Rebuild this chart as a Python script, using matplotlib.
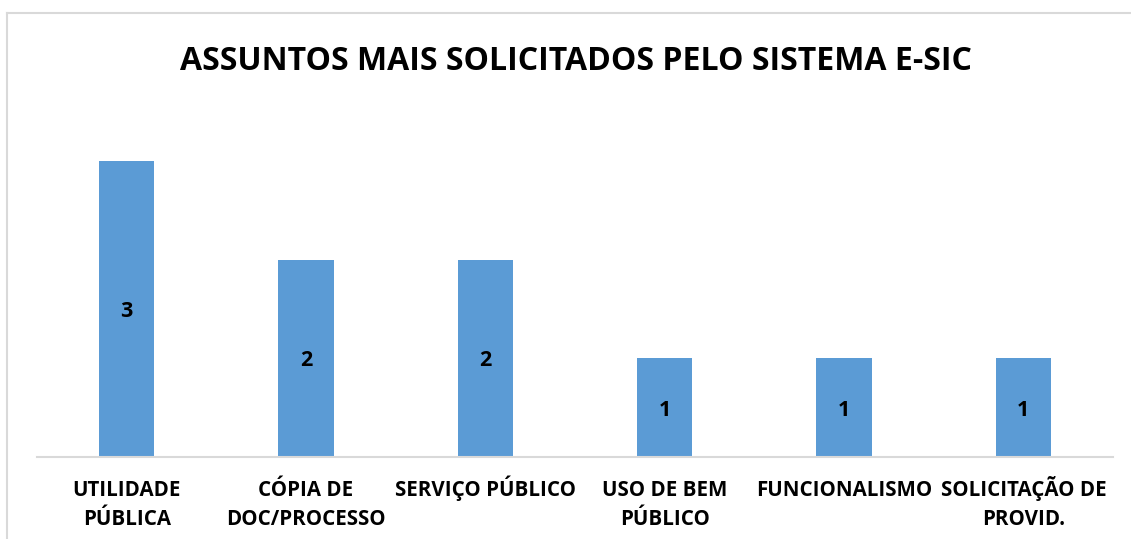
import matplotlib
matplotlib.use("Agg")
import matplotlib.pyplot as plt
from matplotlib.lines import Line2D
from matplotlib.transforms import blended_transform_factory, ScaledTranslation

categories = ["UTILIDADE\nPÚBLICA", "CÓPIA DE\nDOC/PROCESSO", "SERVIÇO PÚBLICO",
              "USO DE BEM\nPÚBLICO", "FUNCIONALISMO", "SOLICITAÇÃO DE\nPROVID."]
values = [3, 2, 2, 1, 1, 1]
title = "ASSUNTOS MAIS SOLICITADOS PELO SISTEMA E-SIC"

W, H = 1131, 539
fig = plt.figure(figsize=(W / 100, H / 100), dpi=100)
fig.patch.set_facecolor("white")

# axes in pixel coordinates
x0, x1 = 37, 1113
ytop, ybot = 161, 457
ax = fig.add_axes([x0 / W, 1 - ybot / H, (x1 - x0) / W, (ybot - ytop) / H])
font = "Open Sans"

xs = list(range(len(categories)))
ax.bar(xs, values, width=0.31, color="#5b9bd5", zorder=2)
ax.set_xlim(-0.5, len(categories) - 0.5)
ax.set_ylim(0, 3)

for x, v in zip(xs, values):
    ax.text(x, v / 2, str(v), ha="center", va="center_baseline", fontsize=15.5,
            fontweight="bold", family=font, color="black")

# category labels, one line at a time on fixed baselines
ax.set_xticks([])
trans = blended_transform_factory(ax.transData, ax.transAxes)
for x, lab in zip(xs, categories):
    for i, line in enumerate(lab.split("\n")):
        off = ScaledTranslation(0, -(39 + 29 * i) / 100, fig.dpi_scale_trans)
        ax.text(x, 0, line, transform=trans + off, ha="center", va="baseline",
                fontsize=14.8, fontweight="bold", family=font, color="black",
                clip_on=False)

ax.set_yticks([])
for s in ["top", "right", "left"]:
    ax.spines[s].set_visible(False)
ax.spines["bottom"].set_color("#d9d9d9")
ax.spines["bottom"].set_linewidth(1.5)
ax.set_facecolor("none")

fig.text(576 / W, 1 - 70 / H, title, ha="center", va="baseline", fontsize=23,
         fontweight="bold", family=font, color="black")

# outer chart border (cropped: only left and top visible)
fig.add_artist(Line2D([7 / W, 7 / W], [0, 1 - 13 / H], transform=fig.transFigure,
                      color="#d9d9d9", lw=1.5))
fig.add_artist(Line2D([7 / W, 1], [1 - 13 / H, 1 - 13 / H], transform=fig.transFigure,
                      color="#d9d9d9", lw=1.5))

fig.savefig("out.png", dpi=100, facecolor="white")
